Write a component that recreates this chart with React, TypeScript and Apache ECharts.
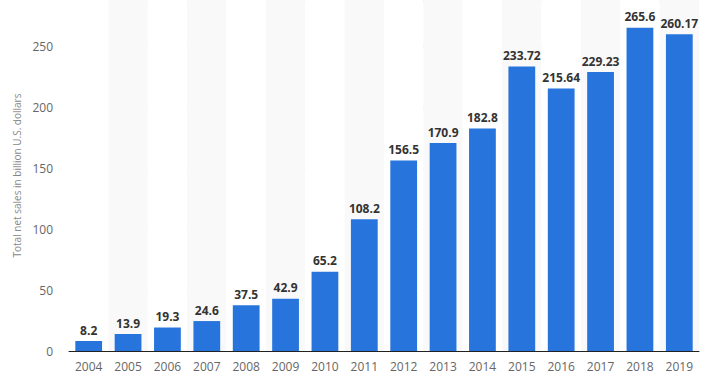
import React, { useEffect, useRef } from "react";
import * as echarts from "echarts";

const years = ["2004","2005","2006","2007","2008","2009","2010","2011","2012","2013","2014","2015","2016","2017","2018","2019"];
const sales = [8.2, 13.9, 19.3, 24.6, 37.5, 42.9, 65.2, 108.2, 156.5, 170.9, 182.8, 233.72, 215.64, 229.23, 265.6, 260.17];
const axisName = "Total net sales in billion U.S. dollars";

export default function App() {
  const ref = useRef<HTMLDivElement>(null);
  useEffect(() => {
    if (!ref.current) return;
    const chart = echarts.init(ref.current, null, { renderer: "svg" });
    chart.setOption({
      animation: false,
      textStyle: { fontFamily: "Open Sans" },
      grid: { left: 69, right: 13, top: -2, bottom: 29 },
      xAxis: {
        type: "category",
        data: years,
        axisLine: { lineStyle: { color: "#222", width: 1 } },
        axisTick: { show: false },
        axisLabel: { color: "#666", fontSize: 12, margin: 9, fontFamily: "Open Sans" },
        splitArea: { show: true, areaStyle: { color: ["#ffffff", "#f9f9f9"] } },
      },
      yAxis: {
        type: "value",
        min: 0,
        max: 288.4,
        interval: 50,
        name: axisName,
        nameLocation: "middle",
        nameGap: 43,
        nameTextStyle: { color: "#888", fontSize: 10, fontFamily: "Open Sans" },
        axisLine: { show: false },
        axisTick: { show: false },
        axisLabel: { color: "#666", fontSize: 12, margin: 16, showMaxLabel: false, fontFamily: "Open Sans" },
        splitLine: { lineStyle: { color: "#c8c8c8", type: "dotted", width: 1 } },
      },
      series: [
        {
          type: "bar",
          data: sales,
          barWidth: "68%",
          itemStyle: { color: "#2775dc" },
          label: {
            show: true,
            position: "top",
            distance: 5,
            color: "#333",
            fontSize: 12,
            fontWeight: "bold",
            fontFamily: "Open Sans",
          },
        },
      ],
    });
    return () => chart.dispose();
  }, []);
  return (
    <div
      ref={ref}
      style={{ position: "absolute", left: 0, top: 0, width: 712, height: 380 }}
    />
  );
}
